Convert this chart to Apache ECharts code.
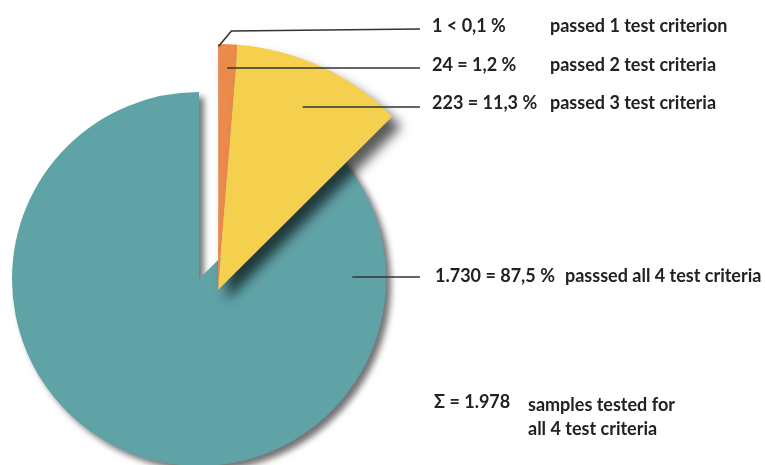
<!DOCTYPE html>
<html>
<head>
<meta charset="utf-8">
<script src="https://cdn.jsdelivr.net/npm/echarts@6/dist/echarts.min.js"></script>
<style>
html,body{margin:0;padding:0;background:#fff;}
#chart{width:765px;height:465px;}
</style>
</head>
<body>
<div id="chart"></div>
<script>
// ---- data ----
const categories = ['passed 1 test criterion', 'passed 2 test criteria', 'passed 3 test criteria', 'passsed all 4 test criteria'];
const counts = [1, 24, 223, 1730];
const valueLabels = ['1 < 0,1 %', '24 = 1,2 %', '223 = 11,3 %', '1.730 = 87,5 %'];
const totalNote = ['samples tested for', 'all 4 test criteria'];

// ---- styling / layout ----
const colors = ['#e2763f', '#ec8a4c', '#f5cf4e', '#5fa3a7'];
const centerA = [199, 279], radiusA = 187;   // main (teal) piece
const centerB = [218, 290], radiusB = 246;   // pulled-out small pieces
const lineY = [29, 68, 107, 277];
const textY = [26, 65, 103, 276];
const lineEndX = 420;
const FONT = 'Lato';
const FS = 18;

const total = counts.reduce((a, b) => a + b, 0);
const fmtThousands = n => String(n).replace(/\B(?=(\d{3})+(?!\d))/g, '.');

function polar(c, r, deg) {
  const a = deg * Math.PI / 180;
  return [c[0] + r * Math.sin(a), c[1] - r * Math.cos(a)];
}
function midAngle(i) {
  let cum = 0;
  for (let k = 0; k < i; k++) cum += counts[k];
  return (cum + counts[i] / 2) / total * 360;
}

function buildData(visibleIdx, shadow) {
  return counts.map((v, i) => {
    const vis = visibleIdx.includes(i);
    return {
      value: v,
      name: categories[i],
      itemStyle: vis ? Object.assign({ color: colors[i] }, shadow) : { color: 'rgba(0,0,0,0)' }
    };
  });
}

const base = { fontFamily: FONT, fontWeight: 'bold', fontSize: FS, color: '#222' };
const richText = {
  v: Object.assign({ width: 118 }, base),
  w: Object.assign({ width: 130 }, base),
  d: Object.assign({}, base)
};
const fmt = p => (p.dataIndex === 3 ? '{w|' : '{v|') + valueLabels[p.dataIndex] + '}{d|' + categories[p.dataIndex] + '}';

function labelLayout(params) {
  const i = params.dataIndex;
  let start, pts;
  if (i === 0) {
    start = polar(centerB, radiusB * 0.99, midAngle(0));
    pts = [start, [start[0] + 13, lineY[0] + 2], [lineEndX, lineY[0]]];
  } else if (i === 1) {
    start = polar(centerB, radiusB * 0.9, midAngle(1));
    pts = [[start[0], lineY[1]], [lineEndX, lineY[1]]];
  } else if (i === 2) {
    start = polar(centerB, radiusB * 0.82, midAngle(2));
    pts = [[start[0], lineY[2]], [lineEndX, lineY[2]]];
  } else {
    start = polar(centerA, radiusA * 0.82, 90);
    pts = [[start[0], lineY[3]], [lineEndX, lineY[3]]];
  }
  return {
    x: i === 3 ? 435 : 432,
    y: textY[i],
    align: 'left',
    verticalAlign: 'middle',
    labelLinePoints: pts
  };
}

const chart = echarts.init(document.getElementById('chart'), null, { renderer: 'canvas' });
chart.setOption({
  backgroundColor: '#ffffff',
  animation: false,
  series: [
    {
      type: 'pie', z: 1,
      center: centerA, radius: radiusA,
      startAngle: 90, clockwise: true,
      label: { show: false }, labelLine: { show: false },
      emphasis: { disabled: true },
      data: buildData([3], { shadowColor: 'rgba(0,0,0,0.55)', shadowBlur: 6, shadowOffsetX: 5, shadowOffsetY: 5 })
    },
    {
      type: 'pie', z: 2,
      center: centerB, radius: radiusB,
      startAngle: 90, clockwise: true,
      label: { show: false }, labelLine: { show: false },
      emphasis: { disabled: true },
      data: buildData([0, 1, 2], { shadowColor: 'rgba(0,0,0,0.65)', shadowBlur: 12, shadowOffsetX: 9, shadowOffsetY: 10 })
    },
    {
      // label carrier: same slices, invisible, drawn on top
      type: 'pie', z: 3,
      center: centerB, radius: radiusB,
      startAngle: 90, clockwise: true,
      avoidLabelOverlap: false,
      silent: true,
      itemStyle: { color: 'rgba(0,0,0,0)' },
      label: { show: true, position: 'outside', formatter: fmt, rich: richText },
      labelLine: { show: true, lineStyle: { color: '#333', width: 1.6 } },
      labelLayout: labelLayout,
      emphasis: { disabled: true },
      data: counts.map((v, i) => ({ value: v, name: categories[i] }))
    }
  ],
  graphic: [
    {
      type: 'text', left: 434, top: 393,
      style: { text: 'Σ = ' + fmtThousands(total), fontFamily: FONT, fontWeight: 'bold', fontSize: FS, fill: '#222' }
    },
    {
      type: 'text', left: 528, top: 393,
      style: { text: totalNote.join('\n'), lineHeight: 24, fontFamily: FONT, fontWeight: 'bold', fontSize: FS, fill: '#222' }
    }
  ]
});
</script>
</body>
</html>
